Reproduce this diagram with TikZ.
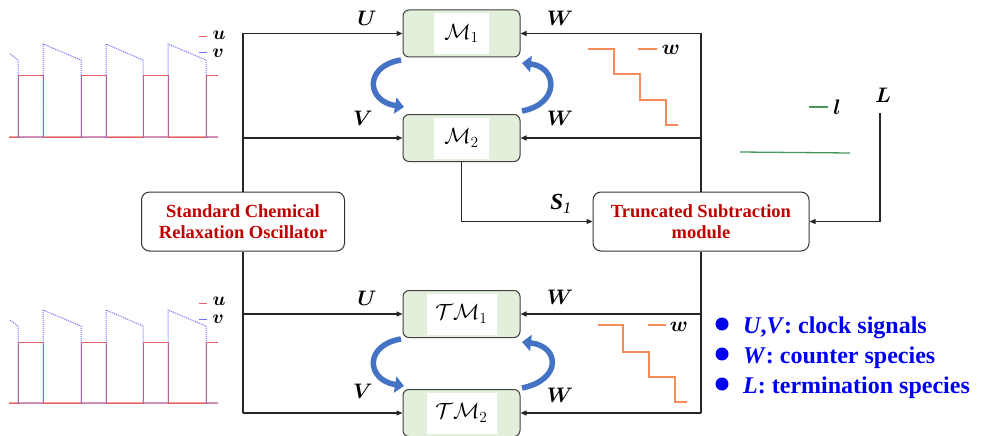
\RequirePackage{fix-cm}
\documentclass[tikz,border=0pt]{standalone}
\usepackage{amsmath,amssymb}
\usepackage{bm}
\usepackage[no-math]{fontspec}
\setmainfont{Liberation Serif}
\usetikzlibrary{arrows.meta}
\definecolor{modgreen}{HTML}{E2EFDA}
\definecolor{darkred}{HTML}{C00000}
\definecolor{arrowblue}{HTML}{4472C4}
\definecolor{ured}{RGB}{225,95,95}
\definecolor{ubase}{RGB}{240,160,160}
\definecolor{vblue}{RGB}{110,110,250}
\definecolor{worange}{RGB}{245,140,90}
\definecolor{lgreen}{RGB}{75,150,90}
\definecolor{bulletblue}{RGB}{0,0,240}
\begin{document}
\begin{tikzpicture}[x=1pt,y=-1pt,
  wire/.style={line width=1.2pt, draw=black!85},
  arr/.style={wire, -{Triangle[length=6pt,width=5pt]}},
  module/.style={draw=black!75, line width=1pt, rounded corners=6pt, fill=modgreen,
    minimum width=117pt, minimum height=47pt, inner sep=0pt,
    font=\fontsize{22}{24}\selectfont,
    path picture={\fill[white,sharp corners] ([xshift=-#1,yshift=-20.5pt]path picture bounding box.center) rectangle ([xshift=#1,yshift=20.5pt]path picture bounding box.center);}},
  bigbox/.style={draw=black!80, line width=1pt, rounded corners=8pt, fill=white, align=center,
    text=darkred, font=\fontsize{18.5}{21}\selectfont\bfseries, minimum height=59pt, inner sep=0pt},
  lab/.style={font=\fontsize{21}{24}\selectfont, inner sep=0pt},
  leg/.style={font=\fontsize{21}{22}\selectfont, inner sep=0pt},
  pleg/.style={font=\fontsize{19}{20}\selectfont, inner sep=0pt},
  barrow/.style={draw=arrowblue, line width=5.5pt, -{Triangle[length=9pt,width=16pt]}},
  uline/.style={draw=ured, line width=1pt},
  vline/.style={draw=vblue, line width=1pt, densely dotted},
  bline/.style={draw=ubase, line width=2pt},
  wline/.style={draw=worange, line width=1.1pt},
  item/.style={anchor=base west, inner sep=0pt, text=bulletblue, font=\fontsize{24}{28}\selectfont\bfseries}
]
\useasboundingbox (0,0) rectangle (985,436);

% ---------- modules ----------
\node[module=27.5pt] (m1) at (461.5,33.5) {$\mathcal{M}_1$};
\node[module=27.5pt] (m2) at (461.5,138) {$\mathcal{M}_2$};
\node[module=35pt] (tm1) at (461.5,314) {$\mathcal{T}\mathcal{M}_1$};
\node[module=35pt] (tm2) at (461.5,413) {$\mathcal{T}\mathcal{M}_2$};

\node[bigbox, minimum width=203pt] (osc) at (243,221.5) {Standard Chemical\\Relaxation Oscillator};
\node[bigbox, minimum width=216pt] (ts) at (701,221.5) {Truncated Subtraction\\module};

% ---------- junctions ----------
\coordinate (jl1) at (243,33.5);
\coordinate (jl2) at (243,138);
\coordinate (jl3) at (243,314);
\coordinate (jl4) at (243,413);
\coordinate (jr1) at (701,33.5);
\coordinate (jr2) at (701,138);
\coordinate (jr3) at (701,314);
\coordinate (jr4) at (701,413);
\coordinate (Ltop) at (880,113);

% ---------- connectors ----------
\draw[wire] (jl1) -- (osc.north);
\draw[wire] (osc.south) -- (jl4);
\draw[arr] (jl1) -- (m1.west);
\draw[arr] (jl2) -- (m2.west);
\draw[arr] (jl3) -- (tm1.west);
\draw[arr] (jl4) -- (tm2.west);
\draw[wire] (jr1) -- (ts.north);
\draw[wire] (ts.south) -- (jr4);
\draw[arr] (jr1) -- (m1.east);
\draw[arr] (jr2) -- (m2.east);
\draw[arr] (jr3) -- (tm1.east);
\draw[arr] (jr4) -- (tm2.east);
\draw[arr] (m2.south) |- (ts.west);
\draw[arr] (Ltop) |- (ts.east);

% ---------- blue curved arrows ----------
\draw[barrow] (401,60) .. controls (364,66) and (366,101) .. (404,107);
\draw[barrow] (522,111) .. controls (560,104) and (558,67) .. (522,63);
\draw[barrow] (401,339) .. controls (364,345) and (366,380) .. (404,386);
\draw[barrow] (522,388) .. controls (562,380) and (560,346) .. (522,342);

% ---------- labels ----------
\node[lab] (lu1) at (367,18) {$\bm{U}$};
\node[lab] (lv1) at (363,118) {$\bm{V}$};
\node[lab] (lw1) at (560,18) {$\bm{W}$};
\node[lab] (lw2) at (560,118) {$\bm{W}$};
\node[lab] (lu2) at (367,298) {$\bm{U}$};
\node[lab] (lv2) at (363,391) {$\bm{V}$};
\node[lab] (lw3) at (560,297) {$\bm{W}$};
\node[lab] (lw4) at (560,395) {$\bm{W}$};
\node[lab] (lL) at (883,95) {$\bm{L}$};
\node[inner sep=0pt, font=\fontsize{23}{26}\selectfont] (lS) at (561,204) {\textbf{\textit{S}}\textsubscript{\textit{1}}};

% ---------- top-left plot ----------
\draw[bline] (9,137) -- (218,137);
\draw[uline] (9,137) -- (18,137) -- (18,76) -- (43,76) -- (43,137) -- (81,137) -- (81,76) -- (106,76) -- (106,137) -- (143,137) -- (143,76) -- (168,76) -- (168,137) -- (206,137) -- (206,76) -- (218,76);
\draw[vline] (10,54) -- (18,60) -- (18,137) -- (43,137) -- (43,44) -- (81,60) -- (81,137) -- (106,137) -- (106,44) -- (143,60) -- (143,137) -- (168,137) -- (168,44) -- (206,60) -- (206,137) -- (218,137);
\draw[uline] (199,37) -- (207,37);
\draw[draw=vblue, line width=1pt] (199,53) -- (207,53);
\node[pleg] (pu1) at (219,35.5) {$\bm{u}$};
\node[pleg] (pv1) at (218,53.5) {$\bm{v}$};

% ---------- bottom-left plot ----------
\begin{scope}[yshift=-266pt]
\draw[bline] (9,137) -- (218,137);
\draw[uline] (9,137) -- (18,137) -- (18,76) -- (43,76) -- (43,137) -- (81,137) -- (81,76) -- (106,76) -- (106,137) -- (143,137) -- (143,76) -- (168,76) -- (168,137) -- (206,137) -- (206,76) -- (218,76);
\draw[vline] (10,54) -- (18,60) -- (18,137) -- (43,137) -- (43,44) -- (81,60) -- (81,137) -- (106,137) -- (106,44) -- (143,60) -- (143,137) -- (168,137) -- (168,44) -- (206,60) -- (206,137) -- (218,137);
\draw[uline] (199,37) -- (207,37);
\draw[draw=vblue, line width=1pt] (199,53) -- (207,53);
\node[pleg] (pu2) at (219,35.5) {$\bm{u}$};
\node[pleg] (pv2) at (218,53.5) {$\bm{v}$};
\end{scope}

% ---------- w plots ----------
\draw[wline] (588,49) -- (614,49) -- (614,74) -- (640,74) -- (640,100) -- (666,100) -- (666,125) -- (678,125);
\draw[wline] (638,49) -- (657,49);
\node[leg] (pw1) at (671,50) {$\bm{w}$};
\draw[wline] (598,325) -- (623,325) -- (623,352) -- (649,352) -- (649,377) -- (675,377) -- (675,402) -- (687,402);
\draw[wline] (648,325) -- (666,325);
\node[leg] (pw2) at (679,327) {$\bm{w}$};

% ---------- l plot ----------
\draw[draw=lgreen, line width=1.3pt] (809,107) -- (828,107);
\node[leg] (pl) at (837,107) {$\bm{l}$};
\draw[draw=lgreen, line width=1.3pt] (740,152) -- (850,153);

% ---------- bullet list ----------
\fill[bulletblue] (722,324) circle (6.5pt);
\fill[bulletblue] (722,354) circle (6.5pt);
\fill[bulletblue] (722,384) circle (6.5pt);
\node[item] (b1) at (743,333) {\textit{U},\textit{V}: clock signals};
\node[item] (b2) at (743,363) {\textit{W}: counter species};
\node[item] (b3) at (743,393) {\textit{L}: termination species};
\end{tikzpicture}
\end{document}
